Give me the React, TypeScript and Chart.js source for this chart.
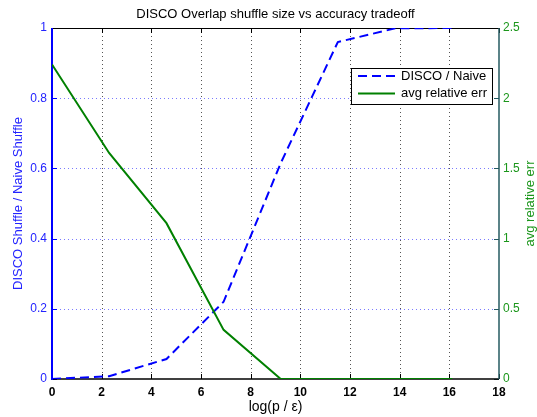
import React, { useEffect, useRef } from "react";
import { Chart, registerables } from "chart.js";

Chart.register(...registerables);

// ---- data ----
const xValues = [0, 2.3, 4.61, 6.91, 9.21, 11.51, 13.82, 16.12];
const discoRatio = [0, 0.008, 0.057, 0.22, 0.615, 0.96, 0.999, 1.0];
const avgRelErr = [2.24, 1.61, 1.11, 0.35, 0, 0, 0, 0];

const xTicks = [0, 2, 4, 6, 8, 10, 12, 14, 16, 18];
const leftTicks = [0, 0.2, 0.4, 0.6, 0.8, 1];
const rightTicks = [0, 0.5, 1, 1.5, 2, 2.5];

const titleText = "DISCO Overlap shuffle size vs accuracy tradeoff";
const xTitle = "log(p / \u03b5)";
const leftTitle = "DISCO Shuffle / Naive Shuffle";
const rightTitle = "avg relative err";
const discoLabel = "DISCO / Naive";
const errLabel = "avg relative err";

const FONT = "'Liberation Sans', Arial, Helvetica, sans-serif";
const BLUE = "#0000ff";
const BLUE_TEXT = "#2323ff";
const GREEN = "#008000";
const GREEN_TEXT = "#1b961b";
const RIGHT_AXIS = "#245a60";

const framePlugin = {
  id: "matlabFrame",
  beforeDatasetsDraw(chart: any) {
    const { ctx, chartArea: a, scales } = chart;
    const x = scales.x;
    const y = scales.y;
    const y1 = scales.y1;
    const seg = (x1: number, y1_: number, x2: number, y2: number) => {
      ctx.beginPath();
      ctx.moveTo(x1, y1_);
      ctx.lineTo(x2, y2);
      ctx.stroke();
    };
    ctx.save();
    ctx.lineWidth = 1;
    // dotted grid
    ctx.setLineDash([1, 3]);
    ctx.strokeStyle = "#555555";
    xTicks.forEach((v) => {
      if (v <= x.min || v >= x.max) return;
      const px = Math.round(x.getPixelForValue(v)) + 0.5;
      seg(px, a.top, px, a.bottom);
    });
    ctx.strokeStyle = "#7a7aff";
    leftTicks.forEach((v) => {
      if (v <= y.min || v >= y.max) return;
      const py = Math.round(y.getPixelForValue(v)) + 0.5;
      seg(a.left, py, a.right, py);
    });
    ctx.setLineDash([]);
    // tick marks
    const tl = 5;
    ctx.strokeStyle = "#000000";
    xTicks.forEach((v) => {
      const px = Math.round(x.getPixelForValue(v)) + 0.5;
      seg(px, a.bottom, px, a.bottom - tl);
      seg(px, a.top, px, a.top + tl);
    });
    ctx.strokeStyle = BLUE;
    leftTicks.forEach((v) => {
      const py = Math.round(y.getPixelForValue(v)) + 0.5;
      seg(a.left, py, a.left + tl, py);
    });
    ctx.strokeStyle = RIGHT_AXIS;
    rightTicks.forEach((v) => {
      const py = Math.round(y1.getPixelForValue(v)) + 0.5;
      seg(a.right, py, a.right - tl, py);
    });
    // borders
    ctx.strokeStyle = "#000000";
    ctx.lineWidth = 1;
    seg(a.left, a.top + 0.5, a.right, a.top + 0.5);
    ctx.lineWidth = 1.5;
    seg(a.left, a.bottom, a.right, a.bottom);
    ctx.strokeStyle = RIGHT_AXIS;
    ctx.lineWidth = 1.5;
    seg(a.right, a.top, a.right, a.bottom);
    ctx.strokeStyle = BLUE;
    ctx.lineWidth = 2;
    seg(a.left, a.top, a.left, a.bottom + 1);
    ctx.restore();
  },
  afterDraw(chart: any) {
    const { ctx, chartArea: a } = chart;
    ctx.save();
    // right axis title, reading bottom to top
    ctx.fillStyle = GREEN_TEXT;
    ctx.font = `13px ${FONT}`;
    ctx.textAlign = "center";
    ctx.textBaseline = "middle";
    ctx.translate(chart.width - 7, (a.top + a.bottom) / 2);
    ctx.rotate(-Math.PI / 2);
    ctx.fillText(rightTitle, 0, 0);
    ctx.restore();

    // legend
    ctx.save();
    const w = 141;
    const h = 36;
    const left = a.right - 148;
    const top = a.top + 40;
    ctx.fillStyle = "#ffffff";
    ctx.fillRect(left, top, w, h);
    ctx.strokeStyle = "#000000";
    ctx.lineWidth = 1;
    ctx.strokeRect(left + 0.5, top + 0.5, w, h);
    const rows = [
      { label: discoLabel, color: BLUE, dash: [9, 5] },
      { label: errLabel, color: GREEN, dash: [] as number[] },
    ];
    rows.forEach((r, i) => {
      const yy = top + 8 + i * 17.5;
      ctx.strokeStyle = r.color;
      ctx.lineWidth = 2;
      ctx.setLineDash(r.dash);
      ctx.beginPath();
      ctx.moveTo(left + 7, yy);
      ctx.lineTo(left + 44, yy);
      ctx.stroke();
      ctx.setLineDash([]);
      ctx.fillStyle = "#000000";
      ctx.font = `13px ${FONT}`;
      ctx.textAlign = "left";
      ctx.textBaseline = "middle";
      ctx.fillText(r.label, left + 50, yy);
    });
    ctx.restore();
  },
};

export default function App() {
  const canvasRef = useRef<HTMLCanvasElement | null>(null);

  useEffect(() => {
    document.body.style.margin = "0";
    const canvas = canvasRef.current;
    if (!canvas) return;
    const chart = new Chart(canvas, {
      type: "line",
      data: {
        datasets: [
          {
            label: discoLabel,
            data: xValues.map((xv, i) => ({ x: xv, y: discoRatio[i] })),
            borderColor: BLUE,
            backgroundColor: BLUE,
            borderWidth: 2,
            borderDash: [9, 5],
            pointRadius: 0,
            tension: 0,
            yAxisID: "y",
            order: 1,
          },
          {
            label: errLabel,
            data: xValues.map((xv, i) => ({ x: xv, y: avgRelErr[i] })),
            borderColor: GREEN,
            backgroundColor: GREEN,
            borderWidth: 2,
            pointRadius: 0,
            tension: 0,
            yAxisID: "y1",
            order: 0,
          },
        ],
      },
      options: {
        responsive: false,
        animation: false,
        layout: { padding: 0 },
        plugins: {
          legend: { display: false },
          tooltip: { enabled: false },
          title: {
            display: true,
            text: titleText,
            color: "#000000",
            font: { family: FONT, size: 13, weight: "normal", lineHeight: 1.2 },
            padding: { top: 7, bottom: 5.4 },
            fullSize: false,
          },
        },
        scales: {
          x: {
            type: "linear",
            position: "bottom",
            min: 0,
            max: 18,
            afterBuildTicks: (s: any) => {
              s.ticks = xTicks.map((v) => ({ value: v }));
            },
            afterFit: (s: any) => {
              s.height = 38;
            },
            grid: { display: false, drawTicks: false, tickLength: 0 },
            border: { display: false },
            ticks: {
              autoSkip: false,
              maxRotation: 0,
              padding: 6,
              color: "#000000",
              font: { family: FONT, size: 12, weight: "bold" },
              callback: (v: any) => String(v),
            },
            title: {
              display: true,
              text: xTitle,
              color: "#000000",
              font: { family: FONT, size: 14, lineHeight: 1.2 },
              padding: { top: 0, bottom: 1 },
            },
          },
          y: {
            type: "linear",
            position: "left",
            min: 0,
            max: 1,
            afterBuildTicks: (s: any) => {
              s.ticks = leftTicks.map((v) => ({ value: v }));
            },
            afterFit: (s: any) => {
              s.width = 52;
            },
            grid: { display: false, drawTicks: false, tickLength: 0 },
            border: { display: false },
            ticks: {
              padding: 5,
              color: BLUE_TEXT,
              font: { family: FONT, size: 12 },
              callback: (v: any) => String(v),
            },
            title: {
              display: true,
              text: leftTitle,
              color: BLUE_TEXT,
              font: { family: FONT, size: 13, lineHeight: 1.2 },
              padding: { top: 11, bottom: 0 },
            },
          },
          y1: {
            type: "linear",
            position: "right",
            min: 0,
            max: 2.5,
            afterBuildTicks: (s: any) => {
              s.ticks = rightTicks.map((v) => ({ value: v }));
            },
            afterFit: (s: any) => {
              s.width = 38;
            },
            grid: { display: false, drawTicks: false, tickLength: 0 },
            border: { display: false },
            ticks: {
              padding: 4,
              color: GREEN_TEXT,
              font: { family: FONT, size: 12 },
              callback: (v: any) => String(v),
            },
          },
        },
      },
      plugins: [framePlugin],
    } as any);
    return () => chart.destroy();
  }, []);

  return (
    <div style={{ position: "absolute", left: 0, top: 0, width: 537, height: 417, background: "#ffffff" }}>
      <canvas ref={canvasRef} width={537} height={417} style={{ display: "block" }} />
    </div>
  );
}
